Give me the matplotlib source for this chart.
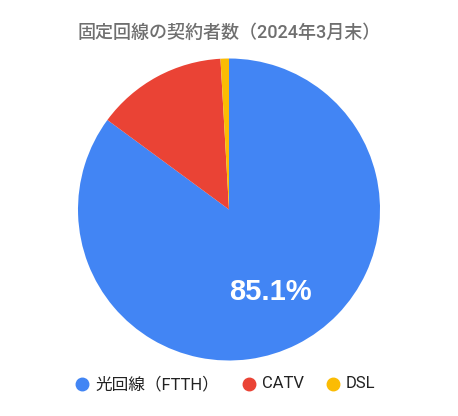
import matplotlib
matplotlib.use("Agg")
import matplotlib.pyplot as plt
from matplotlib.lines import Line2D

# Data
labels = ["光回線（FTTH）", "CATV", "DSL"]
shares = [85.1, 14.0, 0.9]
colors = ["#4285F4", "#EA4335", "#FBBC04"]
title = "固定回線の契約者数（2024年3月末）"

fonts = ["Roboto", "Noto Sans CJK JP", "DejaVu Sans"]
plt.rcParams["font.family"] = fonts

fig = plt.figure(figsize=(4.58, 4.16), dpi=100)
W, H = 458, 416
cx, cy, r = 229, 209.5, 151
ax = fig.add_axes([(cx - r) / W, (H - cy - r) / H, 2 * r / W, 2 * r / H])

def show_pct(p):
    # only the big slice gets a label (small ones are hidden like in gcharts)
    return f"{p:.1f}%" if p > 20 else ""

wedges, texts, autotexts = ax.pie(
    shares,
    colors=colors,
    startangle=90,
    counterclock=False,
    autopct=show_pct,
    pctdistance=0.61,
    wedgeprops=dict(linewidth=0),
)
for t in autotexts:
    t.set_color("white")
    t.set_fontsize(21)
    t.set_fontweight("bold")
    t.set_family(["Liberation Sans", "DejaVu Sans"])
ax.set_aspect("equal")
ax.set_xlim(-1, 1)
ax.set_ylim(-1, 1)
ax.axis("off")

fig.text(0.5, 1 - 33 / H, title, ha="center", va="center",
         fontsize=13, color="#6f6f6f", fontweight="medium")

# legend, drawn by hand so spacing matches
leg_x = [82, 249, 333]
leg_y = 1 - 384 / H
for x, lab, c in zip(leg_x, labels, colors):
    fig.add_artist(Line2D([x / W], [leg_y], marker="o", linestyle="",
                          markersize=9, markerfacecolor=c, markeredgecolor=c,
                          transform=fig.transFigure))
    fig.text((x + 13) / W, leg_y, lab, ha="left", va="center",
             fontsize=12, color="#222222")

fig.savefig("out.png", dpi=100)
